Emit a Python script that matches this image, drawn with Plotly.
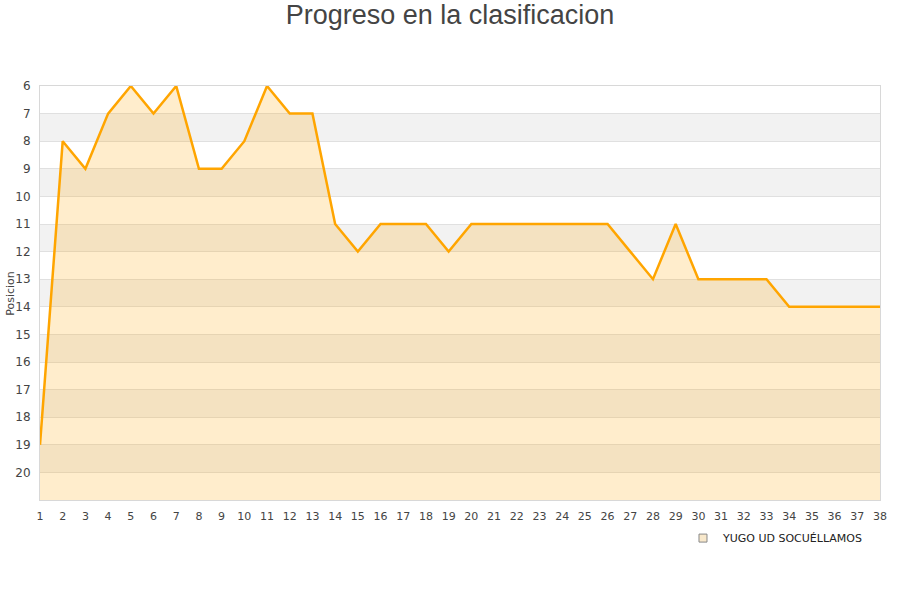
import plotly.graph_objects as go

# jornadas y posiciones
jornadas = list(range(1, 39))
posicion = [19, 8, 9, 7, 6, 7, 6, 9, 9, 8,
            6, 7, 7, 11, 12, 11, 11, 11, 12, 11,
            11, 11, 11, 11, 11, 11, 12, 13, 11, 13,
            13, 13, 13, 14, 14, 14, 14, 14]
y_ticks = list(range(6, 21))
equipo = "YUGO UD SOCUÉLLAMOS"

fig = go.Figure()

# base invisible para rellenar hacia abajo (eje invertido)
fig.add_trace(go.Scatter(x=jornadas, y=[21] * len(jornadas), mode='lines',
                         line=dict(width=0), showlegend=False, hoverinfo='skip'))

fig.add_trace(go.Scatter(x=jornadas, y=posicion, mode='lines', fill='tonexty',
                         fillcolor='rgba(255,165,0,0.2)',
                         line=dict(color='#FFA500', width=2.5),
                         showlegend=False, name=equipo))

# entrada de leyenda
fig.add_trace(go.Scatter(x=[None], y=[None], mode='markers', name=equipo,
                         marker=dict(symbol='square', size=8, color='#F8E8CB',
                                     line=dict(color='#888', width=1))))

# bandas grises alternas
shapes = []
for v in range(7, 21, 2):
    shapes.append(dict(type='rect', xref='paper', x0=0, x1=1, yref='y', y0=v, y1=v + 1,
                       fillcolor='#f2f2f2', line=dict(width=0), layer='below'))

fig.update_layout(
    width=900, height=600,
    title=dict(text='Progreso en la clasificacion', x=0.5, xanchor='center',
               y=0.975, yanchor='middle',
               font=dict(family='Liberation Sans, Arial', size=27, color='#444')),
    font=dict(family='DejaVu Sans', color='#444'),
    plot_bgcolor='white', paper_bgcolor='white',
    margin=dict(l=40, r=20, t=86, b=100),
    shapes=shapes,
    legend=dict(x=0.9857, xanchor='right', y=-0.092, yanchor='middle',
                font=dict(size=11, color='#222'), itemwidth=30),
    annotations=[dict(text='Posicion', xref='paper', yref='paper', x=-0.036, y=0.5,
                      xanchor='center', yanchor='middle', textangle=-90,
                      showarrow=False, font=dict(size=11, color='#444'))],
)

fig.update_xaxes(range=[1, 38], tickvals=jornadas, tickfont=dict(size=11),
                 showgrid=False, showline=True, linecolor='#d8d8d8', mirror=True,
                 ticks='', zeroline=False, ticklabelstandoff=6)
fig.update_yaxes(range=[21, 6], tickvals=y_ticks, tickfont=dict(size=12),
                 showgrid=True, gridcolor='#e0e0e0', showline=True, linecolor='#d8d8d8',
                 mirror=True, ticks='', zeroline=False, ticklabelstandoff=6)

fig.write_html("out.html", config={'displayModeBar': False},
               post_script="document.body.style.margin='0';")
